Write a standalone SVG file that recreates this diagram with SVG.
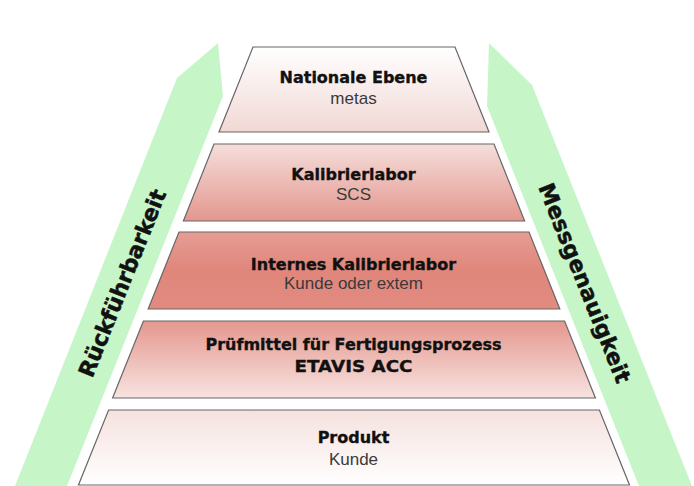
<svg xmlns="http://www.w3.org/2000/svg" width="694" height="486" viewBox="0 0 694 486">
<style>
.layer{stroke:#666;stroke-width:1.2;stroke-linejoin:miter}
.arrow{fill:#c6f6c8;stroke:none}
.t{font-family:"DejaVu Sans","Liberation Sans",sans-serif;font-weight:bold;font-size:16px;fill:#111;stroke:#111;stroke-width:0.35;text-anchor:middle}
.s{font-family:"Liberation Sans",Arial,sans-serif;font-size:17px;fill:#3a3a3a;text-anchor:middle}
.a{font-family:"DejaVu Sans","Liberation Sans",sans-serif;font-weight:bold;font-size:22px;fill:#111;stroke:#111;stroke-width:0.5;text-anchor:middle}
</style>
<defs>
<linearGradient id="g1" x1="0" y1="0" x2="0" y2="1"><stop offset="0" stop-color="#ffffff"/><stop offset="1" stop-color="#f1d8d5"/></linearGradient>
<linearGradient id="g2" x1="0" y1="0" x2="0" y2="1"><stop offset="0" stop-color="#f5dedb"/><stop offset="1" stop-color="#e3978e"/></linearGradient>
<linearGradient id="g3" x1="0" y1="0" x2="0" y2="1"><stop offset="0" stop-color="#e69d94"/><stop offset="0.5" stop-color="#e0867b"/><stop offset="1" stop-color="#e28b81"/></linearGradient>
<linearGradient id="g4" x1="0" y1="0" x2="0" y2="1"><stop offset="0" stop-color="#e4978e"/><stop offset="1" stop-color="#f7e3e0"/></linearGradient>
<linearGradient id="g5" x1="0" y1="0" x2="0" y2="1"><stop offset="0" stop-color="#f5e1de"/><stop offset="1" stop-color="#ffffff"/></linearGradient>
</defs>
<rect width="694" height="486" fill="#ffffff"/>
<g id="connectors">
  <g id="arrow-rueckfuehrbarkeit">
    <path class="arrow" d="M218,43 L223,96 L67,486 L15,486 L177,78 Z"/>
    <text class="a" transform="translate(122,283) rotate(-68.2)" x="0" y="8" textLength="200">Rückführbarkeit</text>
  </g>
  <g id="arrow-messgenauigkeit">
    <path class="arrow" d="M489,43 L532,85 L692,486 L639,486 L487,106 Z"/>
    <text class="a" transform="translate(585,283) rotate(68.2)" x="0" y="8" textLength="213">Messgenauigkeit</text>
  </g>
</g>
<g id="layer-nationale-ebene">
  <path class="layer" fill="url(#g1)" d="M253,47 L455,47 L489,132 L219,132 Z"/>
  <text class="t" x="353.5" y="83">Nationale Ebene</text>
  <text class="s" x="353.5" y="104">metas</text>
</g>
<g id="layer-kalibrierlabor">
  <path class="layer" fill="url(#g2)" d="M214,144 L494,144 L524.6,221 L183.4,221 Z"/>
  <text class="t" x="353.5" y="180">Kalibrierlabor</text>
  <text class="s" x="353.5" y="200">SCS</text>
</g>
<g id="layer-internes-kalibrierlabor">
  <path class="layer" fill="url(#g3)" d="M179,232 L529,232 L559.8,309 L148.2,309 Z"/>
  <text class="t" x="353.5" y="270">Internes Kalibrierlabor</text>
  <text class="s" x="353.5" y="289">Kunde oder extem</text>
</g>
<g id="layer-pruefmittel">
  <path class="layer" fill="url(#g4)" d="M143.4,321 L564.6,321 L595.4,398 L112.6,398 Z"/>
  <text class="t" x="353.5" y="350">Prüfmittel für Fertigungsprozess</text>
  <text class="t" x="353.5" y="372" style="font-size:16.5px" textLength="118" lengthAdjust="spacingAndGlyphs">ETAVIS ACC</text>
</g>
<g id="layer-produkt">
  <path class="layer" fill="url(#g5)" d="M108.6,410 L599.4,410 L629.5,485 L78.5,485 Z"/>
  <text class="t" x="353.5" y="443">Produkt</text>
  <text class="s" x="353.5" y="465">Kunde</text>
</g>
</svg>
